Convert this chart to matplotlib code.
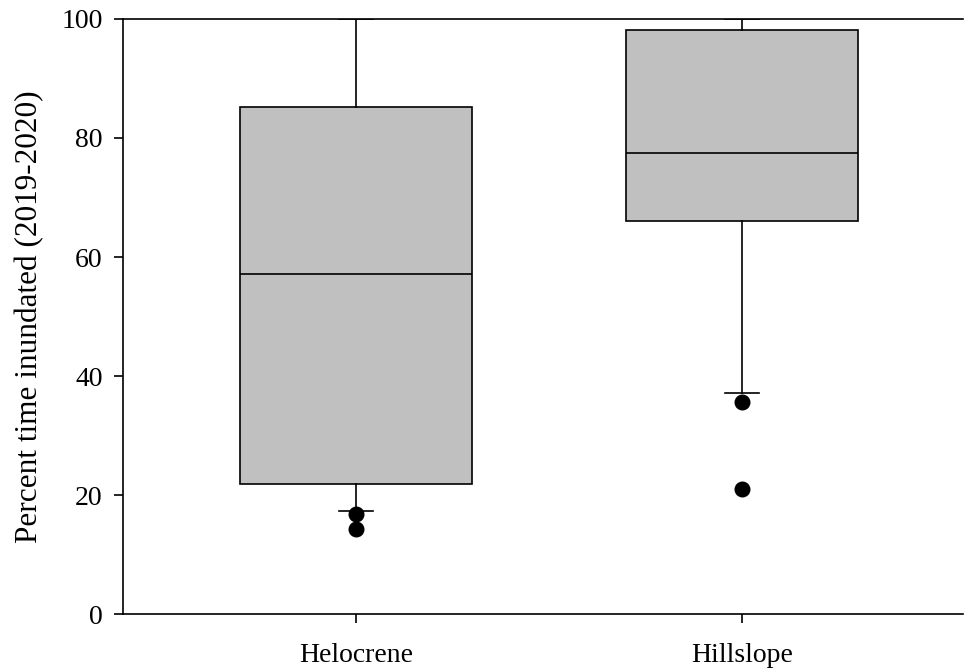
import matplotlib
matplotlib.use('Agg')
import matplotlib.pyplot as plt

plt.rcParams['font.family'] = ['Liberation Serif', 'DejaVu Serif']
plt.rcParams.update({'font.size': 20})

# box statistics
sites = ['Helocrene', 'Hillslope']
whislo = [17.3, 37.1]
q1 = [21.8, 66.1]
med = [57.2, 77.4]
q3 = [85.2, 98.1]
whishi = [100.0, 100.0]
fliers = [[16.8, 14.3], [35.6, 21.0]]

stats = []
for i in range(len(sites)):
    stats.append({'label': sites[i], 'whislo': whislo[i], 'q1': q1[i], 'med': med[i],
                  'q3': q3[i], 'whishi': whishi[i], 'fliers': fliers[i]})

fig = plt.figure(figsize=[9.67, 6.71], dpi=100)
ax = fig.add_axes([0.1272, 0.0849, 0.8687, 0.8868])

ax.bxp(stats, positions=[1, 2], widths=0.6, capwidths=0.09, patch_artist=True,
       boxprops=dict(facecolor='#c0c0c0', edgecolor='black', linewidth=1.2),
       medianprops=dict(color='black', linewidth=1.2),
       whiskerprops=dict(color='black', linewidth=1.2),
       capprops=dict(color='black', linewidth=1.2),
       flierprops=dict(marker='o', markerfacecolor='black', markeredgecolor='black',
                       markersize=10.5))

ax.set_xlim(0.396, 2.5725)
ax.set_ylim(0, 100)
ax.set_yticks([0, 20, 40, 60, 80, 100])
ax.spines['right'].set_visible(False)
for s in ['left', 'bottom', 'top']:
    ax.spines[s].set_linewidth(1.2)
ax.tick_params(direction='out', length=6.7, width=1.2, pad=8)
ax.tick_params(axis='x', pad=14)
ax.set_ylabel('Percent time inundated (2019-2020)', fontsize=22.5, labelpad=12)

plt.savefig('out.png', dpi=100)
